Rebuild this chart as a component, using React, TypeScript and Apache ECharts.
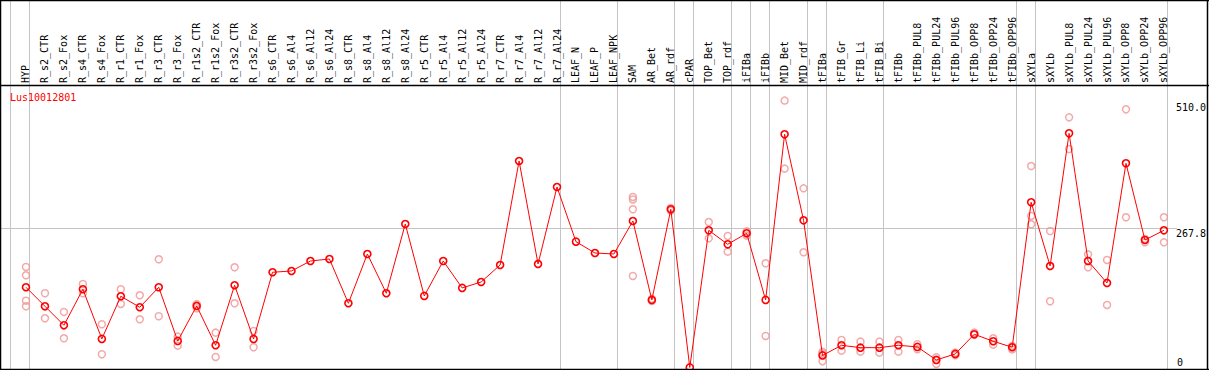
import { useEffect, useRef } from 'react';
import * as echarts from 'echarts';

const categories = [
  'HYP', 'R_s2_CTR', 'R_s2_Fox', 'R_s4_CTR', 'R_s4_Fox', 'R_r1_CTR', 'R_r1_Fox', 'R_r3_CTR', 'R_r3_Fox',
  'R_r1s2_CTR', 'R_r1s2_Fox', 'R_r3s2_CTR', 'R_r3s2_Fox', 'R_s6_CTR', 'R_s6_Al4', 'R_s6_Al12', 'R_s6_Al24',
  'R_s8_CTR', 'R_s8_Al4', 'R_s8_Al12', 'R_s8_Al24', 'R_r5_CTR', 'R_r5_Al4', 'R_r5_Al12', 'R_r5_Al24',
  'R_r7_CTR', 'R_r7_Al4', 'R_r7_Al12', 'R_r7_Al24', 'LEAF_N', 'LEAF_P', 'LEAF_NPK', 'SAM', 'AR_Bet', 'AR_rdf',
  'cPAR', 'TOP_Bet', 'TOP_rdf', 'iFIBa', 'iFIBb', 'MID_Bet', 'MID_rdf', 'tFIBa', 'tFIB_Gr', 'tFIB_Li', 'tFIB_Bi',
  'tFIBb', 'tFIBb_PUL8', 'tFIBb_PUL24', 'tFIBb_PUL96', 'tFIBb_OPP8', 'tFIBb_OPP24', 'tFIBb_OPP96', 'sXYLa',
  'sXYLb', 'sXYLb_PUL8', 'sXYLb_PUL24', 'sXYLb_PUL96', 'sXYLb_OPP8', 'sXYLb_OPP24', 'sXYLb_OPP96',
];

const means = [
  154.4, 117.8, 81.2, 150.6, 54.9, 137.1, 115.9, 154.4, 51.0,
  118.4, 42.7, 158.3, 54.9, 183.3, 185.8, 205.0, 208.9,
  123.6, 218.5, 142.9, 276.3, 137.7, 205.0, 153.1, 164.6,
  197.3, 397.6, 199.3, 347.5, 242.2, 220.4, 218.5, 282.0, 130.0, 304.6,
  0, 264.1, 237.2, 258.4, 130.0, 449.0, 283.4, 23.1, 42.7, 38.1, 38.1,
  42.7, 39.5, 14.4, 26.0, 63.9, 50.4, 38.9, 318.1,
  195.4, 450.9, 205.0, 162.7, 393.1, 245.5, 264.1,
];

const replicates: number[][] = [
  [193.5, 177.5, 128.6, 117.8], [142.9, 94.7], [106.9, 56.2], [160.8, 142.9], [83.2, 25.4],
  [150.6, 122.3], [139.0, 92.8], [208.3, 98.6], [59.3, 42.0],
  [122.0, 114.0], [67.0, 20.2], [192.9, 123.6], [70.3, 38.9], [], [], [], [],
  [], [], [], [], [], [], [], [],
  [], [], [], [], [], [], [], [328.3, 323.5, 304.6, 176.2], [128.0, 132.0], [302.0, 307.0],
  [], [280.1, 248.7], [253.2, 223.0], [262.0, 254.0], [200.6, 60.6], [514.0, 383.0], [345.0, 221.8],
  [30.0, 27.0, 12.0], [52.9, 32.3], [49.7, 30.4], [49.7, 28.5],
  [52.9, 30.4], [44.7, 35.0], [19.6, 6.7], [28.5, 23.5], [67.0, 62.6], [56.2, 43.9], [41.4, 34.7],
  [387.9, 291.7, 275.7],
  [262.8, 127.5], [481.7, 420.7], [217.9, 192.9], [207.0, 120.3], [497.1, 289.2], [241.0, 247.4], [289.2, 241.0],
];

// number of categories before each grey group divider
const groupBoundaries = [0, 1, 29, 32, 35, 36, 38, 39, 40, 42, 43, 46, 53, 54, 61];
const yTickValues = [267.8, 510.0];
const yZeroTick = [0];
const referenceLineValue = 267.8;
const geneLabel = 'Lus10012801';

const MONO = 'DejaVu Sans Mono';

export default function App() {
  const ref = useRef<HTMLDivElement>(null);

  useEffect(() => {
    document.body.style.margin = '0';
    const el = ref.current;
    if (!el) return;
    const chart = echarts.init(el, null, { renderer: 'svg', width: 1209, height: 370 });

    const repData: [string, number][] = [];
    replicates.forEach((reps, i) => reps.forEach((v) => repData.push([categories[i], v])));

    const yMin = -3;
    const yMax = 544;

    chart.setOption({
      animation: false,
      backgroundColor: '#ffffff',
      grid: { left: 16.5, right: 32.3, top: 85, bottom: 1, containLabel: false },
      xAxis: {
        type: 'category',
        position: 'top',
        data: categories,
        boundaryGap: true,
        axisLine: { show: false },
        axisTick: { show: false },
        splitLine: { show: false },
        axisLabel: {
          interval: 0,
          rotate: 90,
          margin: 2,
          fontFamily: MONO,
          fontSize: 10,
          color: '#000',
        },
      },
      yAxis: [
        {
          type: 'value',
          position: 'right',
          min: yMin,
          max: yMax,
          axisLine: { show: false },
          axisTick: { show: false },
          splitLine: { show: false },
          axisLabel: {
            customValues: yTickValues,
            formatter: (v: number) => v.toFixed(1),
            verticalAlign: 'top',
            margin: 2.5,
            fontFamily: MONO,
            fontSize: 10,
            color: '#000',
          },
        },
        {
          type: 'value',
          position: 'right',
          min: yMin,
          max: yMax,
          axisLine: { show: false },
          axisTick: { show: false },
          splitLine: { show: false },
          axisLabel: {
            customValues: yZeroTick,
            formatter: (v: number) => String(v),
            verticalAlign: 'bottom',
            margin: 3.5,
            fontFamily: MONO,
            fontSize: 10,
            color: '#000',
          },
        },
      ],
      series: [
        {
          type: 'scatter',
          data: repData,
          symbol: 'circle',
          symbolSize: 7,
          itemStyle: { color: 'rgba(0,0,0,0)', borderColor: '#f09494', borderWidth: 1.5 },
          z: 2,
          silent: true,
        },
        {
          type: 'line',
          data: means,
          symbol: 'circle',
          symbolSize: 7,
          showAllSymbol: true,
          lineStyle: { color: '#ff0000', width: 1 },
          itemStyle: { color: 'rgba(0,0,0,0)', borderColor: '#ff0000', borderWidth: 1.6 },
          z: 3,
          silent: true,
        },
      ],
    });

    const p0 = chart.convertToPixel({ xAxisIndex: 0 }, categories[0]) as number;
    const p1 = chart.convertToPixel({ xAxisIndex: 0 }, categories[1]) as number;
    const step = p1 - p0;
    const yRef = chart.convertToPixel({ yAxisIndex: 0 }, referenceLineValue) as number;
    const grey = '#c4c4c4';

    const graphics: any[] = [];
    groupBoundaries.forEach((k) => {
      const x = Math.round(p0 - 15.5 + k * step) + 0.5;
      graphics.push({
        type: 'line',
        shape: { x1: x, y1: 0, x2: x, y2: 369 },
        style: { stroke: grey, lineWidth: 1 },
        z: 0,
        silent: true,
      });
    });
    graphics.push({
      type: 'line',
      shape: { x1: 0, y1: Math.round(yRef) + 0.5, x2: 1177, y2: Math.round(yRef) + 0.5 },
      style: { stroke: grey, lineWidth: 1 },
      z: 0,
      silent: true,
    });
    // frame
    const black = '#000';
    [
      [0, 0.5, 1209, 0.5],
      [0, 85.5, 1209, 85.5],
      [0, 369.5, 1209, 369.5],
      [0.5, 0, 0.5, 370],
      [1207.5, 0, 1207.5, 370],
    ].forEach(([x1, y1, x2, y2]) => {
      graphics.push({
        type: 'line',
        shape: { x1, y1, x2, y2 },
        style: { stroke: black, lineWidth: 1.5 },
        z: 100,
        silent: true,
      });
    });
    graphics.push({
      type: 'text',
      x: 10,
      y: 92,
      style: { text: geneLabel, fill: '#ff0000', font: `10px "${MONO}"` },
      z: 10,
      silent: true,
    });

    chart.setOption({ graphic: graphics });

    return () => {
      chart.dispose();
    };
  }, []);

  return <div ref={ref} style={{ width: 1209, height: 370 }} />;
}
